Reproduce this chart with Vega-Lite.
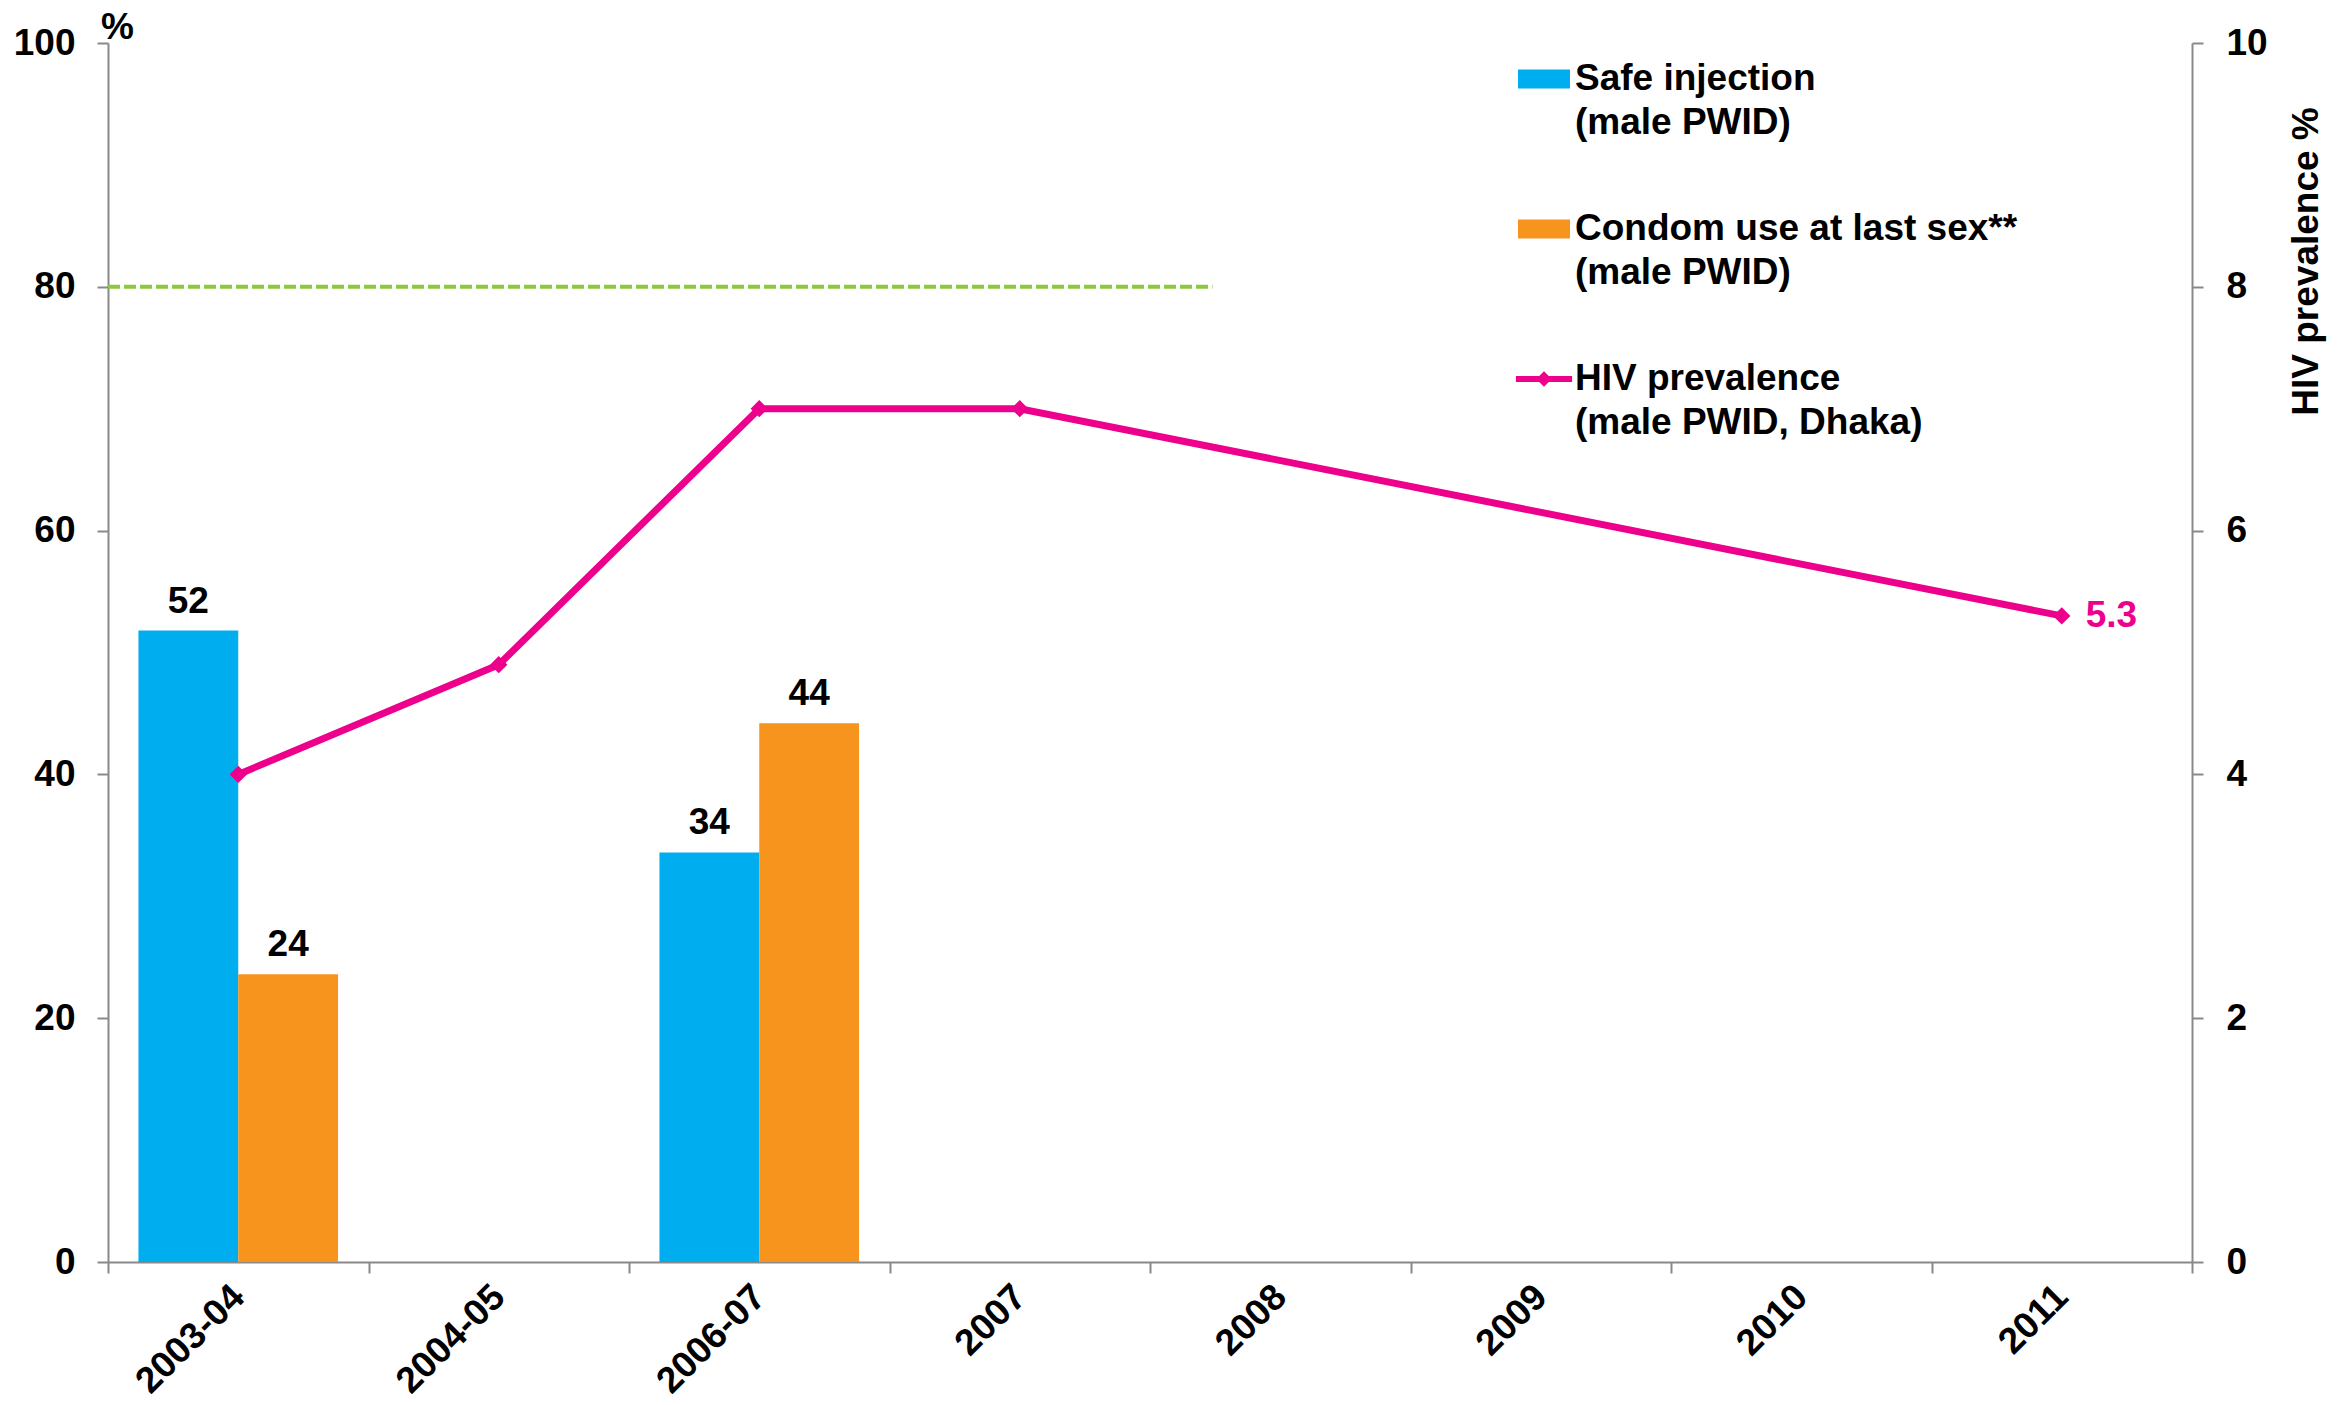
{
  "$schema": "https://vega.github.io/schema/vega-lite/v6.json",
  "width": 2084,
  "height": 1219,
  "autosize": {"type": "none"},
  "padding": {"left": 108, "top": 43, "right": 160, "bottom": 143},
  "background": "white",
  "config": {
    "view": {"stroke": null},
    "font": "Liberation Sans",
    "axis": {
      "grid": false,
      "labelFont": "Liberation Sans",
      "labelFontSize": 37,
      "labelFontWeight": "bold",
      "labelColor": "#000000",
      "titleFont": "Liberation Sans",
      "titleFontSize": 37,
      "titleFontWeight": "bold",
      "titleColor": "#000000",
      "domainColor": "#898989",
      "domainWidth": 2,
      "tickColor": "#898989",
      "tickWidth": 2,
      "tickSize": 11
    }
  },
  "datasets": {
    "bars": [
      {"year": "2003-04", "series": "Safe injection (male PWID)", "value": 51.8},
      {"year": "2003-04", "series": "Condom use at last sex** (male PWID)", "value": 23.6},
      {"year": "2006-07", "series": "Safe injection (male PWID)", "value": 33.6},
      {"year": "2006-07", "series": "Condom use at last sex** (male PWID)", "value": 44.2}
    ],
    "hiv": [
      {"year": "2003-04", "hiv": 4.0},
      {"year": "2004-05", "hiv": 4.9},
      {"year": "2006-07", "hiv": 7.0},
      {"year": "2007", "hiv": 7.0},
      {"year": "2011", "hiv": 5.3}
    ],
    "target": [
      {"start": "2003-04", "end": "2008", "target": 80}
    ]
  },
  "layer": [
    {
      "layer": [
        {
          "data": {"name": "bars"},
          "mark": {"type": "bar"},
          "encoding": {
            "x": {
              "field": "year", "type": "nominal",
              "scale": {"domain": ["2003-04", "2004-05", "2006-07", "2007", "2008", "2009", "2010", "2011"], "paddingInner": 0, "paddingOuter": 0},
              "axis": {"title": null, "labelAngle": -45, "labelAlign": "right", "labelBaseline": "middle", "tickBand": "extent", "labelPadding": 18}
            },
            "xOffset": {
              "field": "series", "type": "nominal",
              "scale": {"domain": ["Safe injection (male PWID)", "Condom use at last sex** (male PWID)"], "paddingInner": 0, "paddingOuter": 0.305}
            },
            "y": {
              "field": "value", "type": "quantitative",
              "scale": {"domain": [0, 100], "nice": false},
              "axis": {"title": "%", "values": [0, 20, 40, 60, 80, 100], "labelPadding": 22, "titleAngle": 0, "titleX": 9, "titleY": 3, "titleAlign": "center", "titleBaseline": "bottom", "titleAnchor": null}
            },
            "color": {
              "field": "series", "type": "nominal",
              "scale": {"domain": ["Safe injection (male PWID)", "Condom use at last sex** (male PWID)", "HIV prevalence (male PWID, Dhaka)"], "range": ["#00AEEF", "#F7941D", "#EC008C"]},
              "legend": {
                "orient": "none",
                "legendX": 1410,
                "legendY": 10,
                "title": null,
                "labelFont": "Liberation Sans",
                "labelFontSize": 37,
                "labelFontWeight": "bold",
                "labelColor": "#000000",
                "labelLimit": 900,
                "labelOffset": 5,
                "labelBaseline": "middle",
                "symbolSize": 2704,
                "symbolStrokeWidth": 0,
                "rowPadding": 62,
                "labelExpr": "[substring(datum.label, 0, indexof(datum.label, ' (')), substring(datum.label, indexof(datum.label, ' (') + 1)]",
                "encode": {
                  "symbols": {"update": {"shape": {"signal": "datum.value === 'HIV prevalence (male PWID, Dhaka)' ? 'M-1.08,-0.12H1.08V0.12H-1.08Z M-0.3,0L0,-0.3L0.3,0L0,0.3Z' : 'M-1,-0.365H1V0.365H-1Z'"}, "strokeWidth": {"value": 0}}},
                  "labels": {"update": {"lineHeight": {"value": 43.5}}}
                }
              }
            }
          }
        },
        {
          "data": {"name": "bars"},
          "mark": {"type": "text", "baseline": "alphabetic", "dy": -18, "fontSize": 37, "fontWeight": "bold", "font": "Liberation Sans", "color": "#000000"},
          "encoding": {
            "x": {"field": "year", "type": "nominal"},
            "xOffset": {"field": "series", "type": "nominal"},
            "y": {"field": "value", "type": "quantitative", "title": "%"},
            "text": {"field": "value", "type": "quantitative", "format": ".0f"}
          }
        },
        {
          "data": {"name": "target"},
          "mark": {"type": "rule", "color": "#8DC63F", "strokeWidth": 4, "strokeDash": [12, 4]},
          "encoding": {
            "x": {"field": "start", "type": "nominal", "bandPosition": 0},
            "x2": {"field": "end", "bandPosition": 0.24},
            "y": {"field": "target", "type": "quantitative", "title": "%"}
          }
        }
      ]
    },
    {
      "data": {"name": "hiv"},
      "layer": [
        {
          "mark": {"type": "line", "color": "#EC008C", "strokeWidth": 7, "point": {"shape": "diamond", "size": 300, "filled": true, "color": "#EC008C"}},
          "encoding": {
            "x": {"field": "year", "type": "nominal", "sort": null},
            "y": {
              "field": "hiv", "type": "quantitative",
              "scale": {"domain": [0, 10], "nice": false},
              "axis": {"orient": "right", "title": "HIV prevalence %", "values": [0, 2, 4, 6, 8, 10], "format": "d", "labelPadding": 23, "titleAngle": 270, "titleX": 114, "titleY": 218, "titleAlign": "center", "titleBaseline": "middle", "titleAnchor": null}
            }
          }
        },
        {
          "transform": [{"filter": "datum.year === '2011'"}],
          "mark": {"type": "text", "align": "left", "baseline": "middle", "dx": 24, "fontSize": 37, "fontWeight": "bold", "font": "Liberation Sans", "color": "#EC008C"},
          "encoding": {
            "x": {"field": "year", "type": "nominal"},
            "y": {"field": "hiv", "type": "quantitative", "title": "HIV prevalence %"},
            "text": {"field": "hiv", "type": "quantitative", "format": ".1f"}
          }
        }
      ]
    }
  ],
  "resolve": {"scale": {"y": "independent"}}
}
